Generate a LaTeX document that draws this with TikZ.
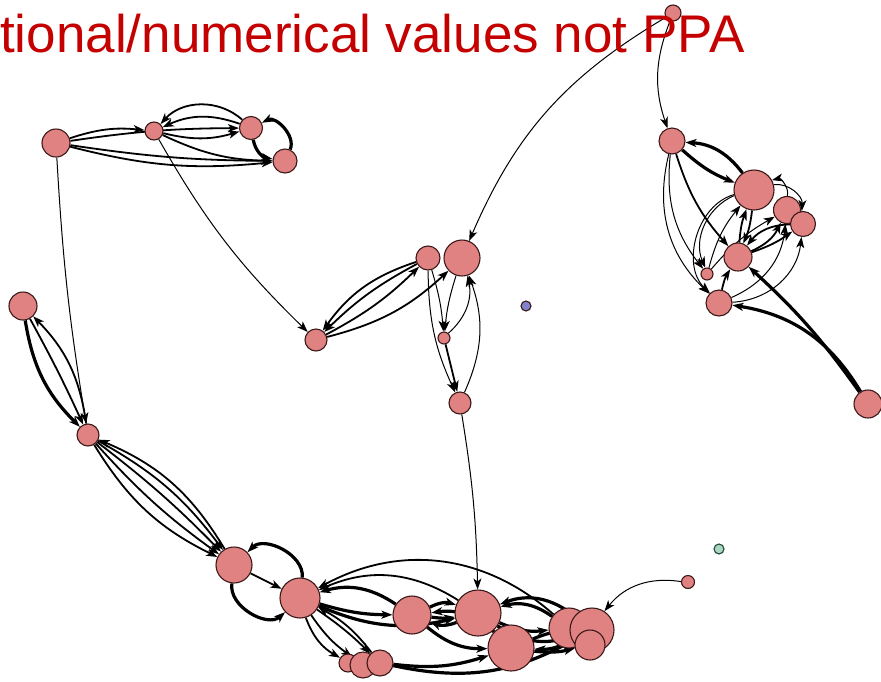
\documentclass[tikz,border=0pt]{standalone}
\usepackage{fontspec}
\newfontfamily\ttlfont{Liberation Sans}
\usetikzlibrary{arrows.meta,backgrounds}
\definecolor{nodefill}{RGB}{224,130,130}
\definecolor{nodeline}{RGB}{60,25,25}
\definecolor{bluefill}{RGB}{130,130,205}
\definecolor{greenfill}{RGB}{170,215,190}
\definecolor{greenline}{RGB}{30,70,60}
\definecolor{ttlred}{RGB}{196,0,0}
\tikzset{
  vtx/.style={circle, draw=nodeline, fill=nodefill, line width=1.1pt, inner sep=0pt, minimum size=#1},
  ed/.style={draw=black, line width=1pt, -{Stealth[length=11pt,width=8pt,inset=3pt]}},
  edm/.style={ed, line width=1.8pt},
  edk/.style={ed, line width=3.2pt},
}
\begin{document}
\begin{tikzpicture}[x=1pt,y=-1pt]
\useasboundingbox (0,0) rectangle (881,681);
% top left group
\node[vtx=28pt] (A1) at (56,143) {};
\node[vtx=18pt] (A2) at (154,131) {};
\node[vtx=23pt] (A3) at (251,128) {};
\node[vtx=24pt] (A4) at (285,161) {};
% left chain
\node[vtx=28pt] (L1) at (23,306) {};
\node[vtx=22pt] (L2) at (88,435) {};
\node[vtx=36pt] (L3) at (234,565) {};
% middle
\node[vtx=16pt] (T1) at (673,13) {};
\node[vtx=24pt] (M1) at (428,258) {};
\node[vtx=36pt] (M2) at (462,258) {};
\node[vtx=22pt] (M3) at (316,340) {};
\node[vtx=12pt] (M4) at (444,338) {};
\node[vtx=22pt] (M5) at (460,403) {};
\node[vtx=10pt, fill=bluefill] (Q1) at (526,306) {};
\node[vtx=10pt, fill=greenfill, draw=greenline] (Q2) at (719,549) {};
\node[vtx=13pt] (P1) at (688,582) {};
% right group
\node[vtx=26pt] (R1) at (672,141) {};
\node[vtx=40pt] (R2) at (754,190) {};
\node[vtx=27pt] (R3) at (787,210) {};
\node[vtx=25pt] (R4) at (803,224) {};
\node[vtx=28pt] (R5) at (738,257) {};
\node[vtx=12pt] (R6) at (707,274) {};
\node[vtx=26pt] (R7) at (719,303) {};
\node[vtx=28pt] (R8) at (868,404) {};
% bottom group
\node[vtx=18pt] (B8) at (348,663) {};
\node[vtx=26pt] (B9) at (363,665) {};
\node[vtx=26pt] (B10) at (380,663) {};
\node[vtx=40pt] (B1) at (300,598) {};
\node[vtx=38pt] (B2) at (412,615) {};
\node[vtx=46pt] (B3) at (478,613) {};
\node[vtx=46pt] (B4) at (511,648) {};
\node[vtx=40pt] (B5) at (569,628) {};
\node[vtx=44pt] (B6) at (592,630) {};
\node[vtx=30pt] (B7) at (590,645) {};
\begin{scope}[on background layer]
% top left edges
\draw[edm] (A1) to[bend left=12] (A2);
\draw[edm] (A1) to[bend left=4] (A3);
\draw[edm] (A1) to[bend right=4] (A4);
\draw[edm] (A1) to[bend right=10] (A4);
\draw[edm] (A2) to[bend right=15] (A3);
\draw[edm] (A3) to[bend right=22] (A2);
\draw[edm] (A3) to[bend right=45] (A2);
\draw[edm] (A2) to[bend right=12] (A4);
\draw[edk] (A4) to[bend right=70] (A3);
\draw[edk] (A3) to[bend right=35] (A4);
\draw[ed] (A1) to[bend right=3] (L2);
\draw[ed] (A2) to[bend right=8] (M3);
% left chain edges
\draw[edk] (L1) to[bend right=18] (L2);
\draw[edm] (L1) to[bend left=2] (L2);
\draw[edm] (L2) to[bend right=18] (L1);
\draw[edm] (L2) to[bend right=16] (L3);
\draw[edm] (L2) to[bend right=6] (L3);
\draw[edm] (L2) to[bend left=4] (L3);
\draw[edm] (L2) to[bend left=12] (L3);
\draw[edm] (L3) to[bend right=18] (L2);
% middle edges
\draw[ed] (T1) to[bend right=18] (M2);
\draw[ed] (T1) to[bend right=20] (R1);
\draw[edm] (M1) to[bend right=8] (M3);
\draw[edm] (M1) to[bend right=18] (M3);
\draw[edm] (M3) to[bend right=8] (M1);
\draw[edm] (M3) to[bend right=14] (M2);
\draw[ed] (M1) to[bend left=6] (M4);
\draw[ed] (M1) to[bend right=12] (M5);
\draw[ed] (M2) to[bend right=6] (M4);
\draw[ed] (M4) to[bend right=30] (M2);
\draw[ed] (M5) to[bend right=22] (M2);
\draw[edm] (M4) to (M5);
\draw[ed] (M5) to[bend left=4] (B3);
\draw[ed] (P1) to[bend right=30] (B6);
% right group edges
\draw[edk] (R2) to[bend right=25] (R1);
\draw[edk] (R1) to[bend right=10] (R2);
\draw[edm] (R1) to[bend right=12] (R5);
\draw[ed] (R1) to[bend right=22] (R6);
\draw[ed] (R1) to[bend right=30] (R7);
\draw[edm] (R5) to[bend left=8] (R2);
\draw[edm] (R2) to[bend left=8] (R5);
\draw[edm] (R5) to[bend right=20] (R3);
\draw[edm] (R5) to[bend right=8] (R4);
\draw[edm] (R4) to[bend right=25] (R5);
\draw[ed] (R7) to[bend right=30] (R3);
\draw[ed] (R7) to[bend right=40] (R4);
\draw[ed] (R6) to[bend left=12] (R2);
\draw[ed] (R2) to[bend right=45] (R6);
\draw[ed] (R2) to[bend right=60] (R7);
\draw[ed] (R6) to[bend left=10] (R3);
\draw[edm] (R7) to[bend left=10] (R5);
\draw[ed] (R2) to[bend left=50] (R4);
\draw[ed] (R3) to[bend right=60] (R2);
\draw[edk] (R8) to[bend right=25] (R7);
\draw[edk] (R8) to[bend right=6] (R5);
% bottom group edges
\draw[edk] (B1) to[bend right=70] (L3);
\draw[edk] (L3) to[bend right=70] (B1);
\draw[edm] (L3) to (B1);
\draw[edk] (B2) to[bend right=25] (B1);
\draw[edm] (B3) to[bend right=28] (B1);
\draw[edk] (B1) to[bend right=8] (B2);
\draw[edk] (B1) to[bend right=18] (B3);
\draw[edk] (B2) to[bend left=22] (B3);
\draw[edk] (B3) to[bend left=22] (B2);
\draw[edk] (B2) to[bend right=8] (B3);
\draw[edk] (B5) to[bend right=25] (B3);
\draw[edk] (B3) to[bend right=15] (B5);
\draw[edk] (B6) to[bend right=30] (B3);
\draw[edk] (B3) to[bend right=25] (B6);
\draw[edk] (B4) to[bend left=10] (B6);
\draw[edk] (B6) to[bend left=15] (B4);
\draw[edk] (B4) to[bend right=10] (B7);
\draw[edk] (B2) to[bend right=20] (B4);
\draw[edk] (B4) to[bend right=25] (B2);
\draw[edk] (B10) to[bend right=12] (B4);
\draw[edk] (B10) to[bend right=20] (B6);
\draw[edm] (B1) to[bend right=20] (B8);
\draw[edm] (B1) to[bend right=10] (B9);
\draw[edm] (B1) to[bend left=5] (B10);
\draw[edm] (B10) to[bend right=12] (B1);
\draw[edm] (B5) to[bend right=35] (B1);
\draw[edk] (B7) to[bend left=20] (B5);
\end{scope}
\node[anchor=base west, inner sep=0pt, text=ttlred, font=\ttlfont\fontsize{53}{60}\selectfont] (ttl) at (0,52) {tional/numerical values not PPA};
\end{tikzpicture}
\end{document}
